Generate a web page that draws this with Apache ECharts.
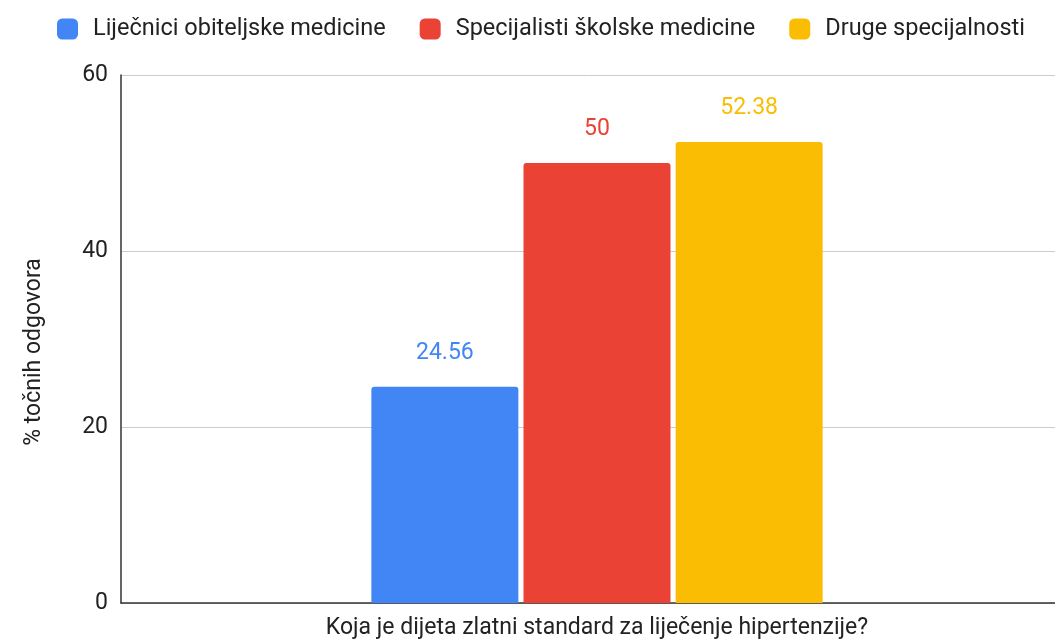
<!DOCTYPE html>
<html>
<head>
<meta charset="utf-8">
<script src="https://cdn.jsdelivr.net/npm/echarts@6/dist/echarts.min.js"></script>
<style>html,body{margin:0;padding:0;background:#fff}#c{width:1055px;height:640px}</style>
</head>
<body>
<div id="c"></div>
<script>
const categories = ['Koja je dijeta zlatni standard za liječenje hipertenzije?'];
const seriesNames = ['Liječnici obiteljske medicine', 'Specijalisti školske medicine', 'Druge specijalnosti'];
const seriesValues = [[24.56], [50], [52.38]];
const seriesColors = ['#4285F4', '#EA4335', '#FBBC04'];
const yTicks = [0, 20, 40, 60];

const font = 'Roboto, "Liberation Sans", Arial, sans-serif';
const chart = echarts.init(document.getElementById('c'));
chart.setOption({
  animation: false,
  textStyle: { fontFamily: font },
  legend: {
    top: 12, left: 52,
    itemWidth: 21, itemHeight: 21, itemGap: 34,
    icon: 'roundRect',
    textStyle: { fontSize: 23.5, color: '#222', fontFamily: font, padding: [0, 0, 0, 10] },
    data: seriesNames
  },
  grid: { left: 121, right: -18, top: 75, bottom: 37, containLabel: false, outerBoundsMode: 'none' },
  xAxis: {
    type: 'category', data: categories,
    axisLine: { lineStyle: { color: '#333', width: 1.5 } },
    axisTick: { show: false }, axisLabel: { show: false },
    name: categories[0], nameLocation: 'middle', nameGap: 14,
    nameTextStyle: { fontSize: 23, color: '#222', fontFamily: font, verticalAlign: 'top' }
  },
  yAxis: {
    type: 'value', min: yTicks[0], max: yTicks[yTicks.length - 1], interval: 20,
    axisLine: { show: true, lineStyle: { color: '#333', width: 1.5 } },
    axisTick: { show: false },
    axisLabel: { fontSize: 23, color: '#222', margin: 13, fontFamily: font },
    splitLine: { lineStyle: { color: '#cccccc' } },
    name: '% točnih odgovora', nameLocation: 'middle', nameGap: 75, nameRotate: 90,
    nameTextStyle: { fontSize: 23, color: '#222', fontFamily: font, padding: [0, 26, 0, 0] }
  },
  series: seriesNames.map((n, i) => ({
    name: n, type: 'bar', data: seriesValues[i],
    barWidth: 147, barGap: '3.5%',
    itemStyle: { color: seriesColors[i], borderRadius: [3, 3, 0, 0] },
    label: { show: true, position: 'top', distance: 22, fontSize: 23, color: seriesColors[i], fontFamily: font }
  }))
});
</script>
</body>
</html>
